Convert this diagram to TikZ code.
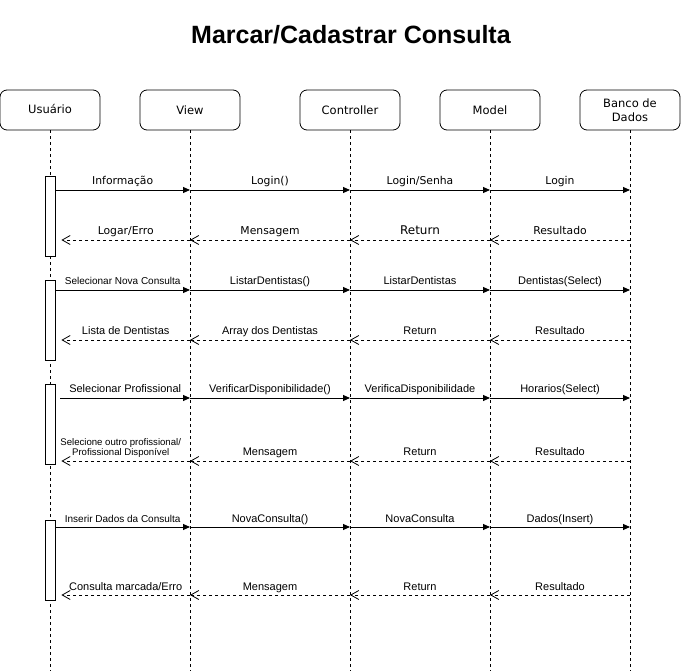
\documentclass[tikz,border=0pt]{standalone}
\usepackage{fontspec}
\setmainfont{Liberation Sans}
\newfontfamily\dv{DejaVu Sans}
\usetikzlibrary{arrows.meta}
\begin{document}
\begin{tikzpicture}[x=1pt,y=-1pt,
  head/.style={draw, line width=0.8pt, rounded corners=7pt, minimum width=100pt, minimum height=40pt, inner sep=1pt, align=center, font=\dv\fontsize{11.5}{14}\selectfont},
  life/.style={line width=0.8pt, dash pattern=on 3pt off 3pt},
  actbox/.style={draw, line width=0.8pt, fill=white, minimum width=10pt, inner sep=0pt},
  call/.style={line width=0.9pt, -{Triangle[length=7pt,width=6pt]}},
  ret/.style={line width=0.8pt, dash pattern=on 3pt off 3pt, -{Straight Barb[length=8pt,width=9pt,line width=0.8pt]}},
  lbl/.style={midway, anchor=base, yshift=5pt, inner sep=0pt, font=\fontsize{11}{13}\selectfont},
  dlbl/.style={lbl, font=\dv\fontsize{10.8}{13}\selectfont},
  slbl/.style={lbl, font=\fontsize{10}{11}\selectfont}
]
\useasboundingbox (0,0) rectangle (681,671);

\node[font=\bfseries\fontsize{25}{29}\selectfont] (title) at (351,35) {Marcar/Cadastrar Consulta};

\node[head] (usr) at (50,110) {\raisebox{2pt}{Usuário}};
\node[head] (view) at (190,110) {View};
\node[head] (ctrl) at (350,110) {Controller};
\node[head] (model) at (490,110) {Model};
\node[head] (db) at (630,110) {Banco de\\Dados};

\coordinate (bot) at (0,671);
\foreach \n in {usr,view,ctrl,model,db}
  \draw[life] (\n.south) -- (\n.south |- bot);

\node[actbox, minimum height=80pt] (a1) at (50,216) {};
\node[actbox, minimum height=80pt] (a2) at (50,320) {};
\node[actbox, minimum height=80pt] (a3) at (50,424) {};
\node[actbox, minimum height=80pt] (a4) at (50,560) {};

\coordinate (r1) at (0,190);
\coordinate (r2) at (0,240);
\coordinate (r3) at (0,290);
\coordinate (r4) at (0,340);
\coordinate (r5) at (0,398);
\coordinate (r6) at (0,461);
\coordinate (r7) at (0,527);
\coordinate (r8) at (0,595);

% row 1
\draw[call] (a1.east |- r1) -- node[dlbl]{Informação} (view |- r1);
\draw[call] (view |- r1) -- node[dlbl]{Login()} (ctrl |- r1);
\draw[call] (ctrl |- r1) -- node[dlbl]{Login/Senha} (model |- r1);
\draw[call] (model |- r1) -- node[dlbl]{Login} (db |- r1);
% row 2
\draw[ret] (db |- r2) -- node[dlbl]{Resultado} (model |- r2);
\draw[ret] (model |- r2) -- node[lbl, font=\dv\fontsize{12}{14}\selectfont]{Return} (ctrl |- r2);
\draw[ret] (ctrl |- r2) -- node[dlbl]{Mensagem} (view |- r2);
\draw[ret] (view |- r2) -- node[dlbl]{Logar/Erro} ([xshift=6pt]a1.east |- r2);
% row 3
\draw[call] (a2.east |- r3) -- node[slbl]{Selecionar Nova Consulta} (view |- r3);
\draw[call] (view |- r3) -- node[lbl]{ListarDentistas()} (ctrl |- r3);
\draw[call] (ctrl |- r3) -- node[lbl]{ListarDentistas} (model |- r3);
\draw[call] (model |- r3) -- node[lbl]{Dentistas(Select)} (db |- r3);
% row 4
\draw[ret] (db |- r4) -- node[lbl]{Resultado} (model |- r4);
\draw[ret] (model |- r4) -- node[lbl]{Return} (ctrl |- r4);
\draw[ret] (ctrl |- r4) -- node[lbl]{Array dos Dentistas} (view |- r4);
\draw[ret] (view |- r4) -- node[lbl]{Lista de Dentistas} ([xshift=6pt]a2.east |- r4);
% row 5
\draw[call] ([xshift=5pt]a3.east |- r5) -- node[lbl]{Selecionar Profissional} (view |- r5);
\draw[call] (view |- r5) -- node[lbl]{VerificarDisponibilidade()} (ctrl |- r5);
\draw[call] (ctrl |- r5) -- node[lbl]{VerificaDisponibilidade} (model |- r5);
\draw[call] (model |- r5) -- node[lbl]{Horarios(Select)} (db |- r5);
% row 6
\draw[ret] (db |- r6) -- node[lbl]{Resultado} (model |- r6);
\draw[ret] (model |- r6) -- node[lbl]{Return} (ctrl |- r6);
\draw[ret] (ctrl |- r6) -- node[lbl]{Mensagem} (view |- r6);
\draw[ret] (view |- r6) -- node[midway, anchor=south, yshift=3pt, xshift=-5pt, inner sep=0pt, align=center, font=\fontsize{9.6}{10.2}\selectfont]{Selecione outro profissional/\\Profissional Disponível} ([xshift=6pt]a3.east |- r6);
% row 7
\draw[call] (a4.east |- r7) -- node[slbl]{Inserir Dados da Consulta} (view |- r7);
\draw[call] (view |- r7) -- node[lbl]{NovaConsulta()} (ctrl |- r7);
\draw[call] (ctrl |- r7) -- node[lbl]{NovaConsulta} (model |- r7);
\draw[call] (model |- r7) -- node[lbl]{Dados(Insert)} (db |- r7);
% row 8
\draw[ret] (db |- r8) -- node[lbl]{Resultado} (model |- r8);
\draw[ret] (model |- r8) -- node[lbl]{Return} (ctrl |- r8);
\draw[ret] (ctrl |- r8) -- node[lbl]{Mensagem} (view |- r8);
\draw[ret] (view |- r8) -- node[lbl]{Consulta marcada/Erro} ([xshift=6pt]a4.east |- r8);
\end{tikzpicture}
\end{document}
